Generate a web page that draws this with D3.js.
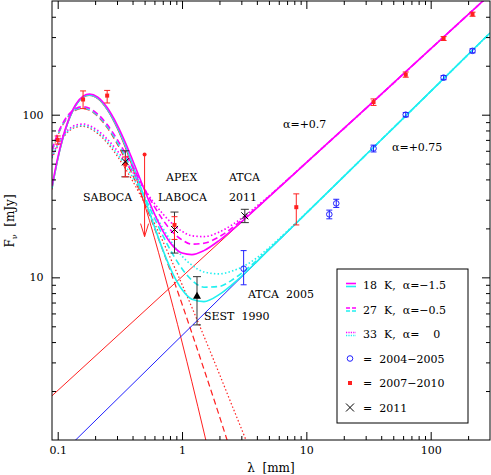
<!DOCTYPE html>
<html>
<head>
<meta charset="utf-8">
<script src="https://cdn.jsdelivr.net/npm/d3@7/dist/d3.min.js"></script>
<style>
  body { margin: 0; background: #fff; }
  text { font-family: "DejaVu Serif", serif; font-size: 11px; white-space: pre; }
</style>
</head>
<body>
<div id="chart"></div>
<script>
var lam = [0.09, 0.1, 0.12, 0.14, 0.16, 0.18, 0.21, 0.25, 0.3, 0.35, 0.4, 0.5, 0.6, 0.7, 0.85,
           1.0, 1.2, 1.5, 2.0, 2.5, 3.2, 4, 5, 7, 10, 30, 100, 300];

// dust only (red)
var dust18 = [34.6, 52.3, 87.4, 113.3, 127.3, 131.1, 124.9, 106.8, 82.6, 62.6, 47.4, 28.1, 17.5, 11.4, 6.51,
              4.00, 2.28, 1.12, 0.44, 0.21];
var dust27 = [59.3, 74.3, 96.0, 106.7, 109.1, 106.4, 97.5, 83.1, 66.4, 53.0, 42.7, 28.6, 20.1, 14.7, 9.76,
              6.85, 4.55, 2.73, 1.40, 0.82, 0.45];
var dust33 = [53.9, 64.1, 77.8, 83.8, 84.8, 82.6, 76.6, 67.1, 55.9, 46.6, 39.2, 28.5, 21.5, 16.7, 12.0,
              9.05, 6.54, 4.35, 2.54, 1.66, 1.04, 0.67];

// dust + free-free, alpha=+0.7 (magenta)
var mag18 = [36.4, 54.3, 89.7, 115.9, 130.1, 134.1, 128.3, 110.6, 87.0, 67.5, 52.7, 34.3, 24.6, 19.3, 15.5,
             14.1, 13.8, 14.6, 16.9, 19.4, 22.9, 26.7, 31.2, 39.5, 50.7, 109, 254, 548];
var mag27 = [61.2, 76.3, 98.3, 109.3, 111.9, 109.4, 100.9, 86.9, 70.8, 57.9, 48.0, 34.8, 27.2, 22.6, 18.8,
             17.0, 16.0, 16.2, 17.8, 20.0, 23.3, 26.9, 31.4, 39.6, 50.7, 109, 254, 548];
var mag33 = [55.8, 66.1, 80.1, 86.4, 87.6, 85.6, 80.0, 70.9, 60.3, 51.5, 44.5, 34.7, 28.5, 24.6, 21.1,
             19.2, 18.0, 17.8, 19.0, 20.9, 23.9, 27.4, 31.6, 39.7, 50.8, 109, 254, 548];

// dust + free-free, alpha=+0.75 (cyan)
var cyan18 = [35.3, 53.1, 88.3, 114.3, 128.4, 132.3, 126.3, 108.4, 84.4, 64.6, 49.6, 30.7, 20.5, 14.8, 10.4,
              8.41, 7.33, 7.09, 7.85, 8.97, 10.6, 12.5, 14.8, 19.0, 24.8, 56.5, 139, 318];
var cyan27 = [60.0, 75.1, 96.9, 107.7, 110.2, 107.6, 98.9, 84.7, 68.2, 55.0, 44.9, 31.2, 23.1, 18.1, 13.7,
              11.3, 9.60, 8.70, 8.80, 9.58, 11.0, 12.7, 14.9, 19.0, 24.8, 56.5, 139, 318];
var cyan33 = [54.6, 64.9, 78.7, 84.8, 85.9, 83.8, 78.0, 68.7, 57.7, 48.6, 41.4, 31.1, 24.5, 20.1, 15.9,
              13.5, 11.9, 10.8, 10.5, 10.9, 11.8, 13.2, 15.2, 19.2, 24.9, 56.5, 139, 318];

// free-free power laws on their own
var ffLam = [0.09, 300];
var ffRed = [1.87, 548];
var ffBlue = [0.72, 318];

// 2007-2010 (red squares)
var redLam = [0.1, 0.16, 0.25, 0.35, 0.87, 8.3, 34.7, 63, 127, 217];
var redF   = [70, 124, 131, 49.4, 21.0, 27, 119.5, 176, 294, 415];
var redLo  = [66, 109, 118, 41.5, 17.1, 21, 114, 170, 286, 403];
var redHi  = [74, 140, 141, 55, 23.6, 32.6, 125, 183, 302, 427];
// upper limit with arrow
var ulLam = [0.5], ulF = [57], ulTo = [17.8];

// 2004-2005 (blue circles)
var blueLam = [3.13, 15.3, 17.4, 34.7, 63, 127, 217];
var blueF   = [11.3, 24.4, 28.5, 62, 100, 169, 247];
var blueLo  = [9.0, 22.9, 26.9, 59, 97, 164, 240];
var blueHi  = [14.6, 25.9, 30.2, 65, 103, 174, 254];

// 2011 (crosses)
var crossLam = [0.35, 0.87, 3.2];
var crossF   = [51.3, 19.7, 23.9];
var crossLo  = [41.5, 14.1, 21.7];
var crossHi  = [60, 25.2, 26.2];

// SEST 1990 (triangle)
var sestLam = [1.32], sestF = [7.7], sestLo = [5.1], sestHi = [10.1];

var xMajor = [0.1, 1, 10, 100];
var xMinor = [0.2, 0.3, 0.4, 0.5, 0.6, 0.7, 0.8, 0.9, 2, 3, 4, 5, 6, 7, 8, 9,
              20, 30, 40, 50, 60, 70, 80, 90, 200];
var yMajor = [10, 100];
var yMinor = [2, 3, 4, 5, 6, 7, 8, 9, 20, 30, 40, 50, 60, 70, 80, 90, 200, 300, 400];

var margin = {top: 1, right: 1, bottom: 35, left: 52},
    width = 491 - margin.left - margin.right,
    height = 475 - margin.top - margin.bottom;

var svg = d3.select("#chart")
  .append("svg")
    .attr("width", 491)
    .attr("height", 475)
  .append("g")
    .attr("transform", "translate(" + margin.left + "," + margin.top + ")");

var x = d3.scaleLog().domain([0.09, 300]).range([0, width]);
var y = d3.scaleLog().domain([1, 500]).range([height, 0]);

svg.append("clipPath").attr("id", "clip")
  .append("rect").attr("width", width).attr("height", height);

var plot = svg.append("g").attr("clip-path", "url(#clip)");

function pairs(xs, ys) {
  return ys.map(function(v, i) { return [xs[i], v]; });
}

var line = d3.line()
  .x(function(d) { return x(d[0]); })
  .y(function(d) { return y(d[1]); })
  .curve(d3.curveMonotoneX);

var dashes = {solid: null, dashed: "6,3.5", dotted: "1.5,2.2"};

function drawCurve(vals, xs, color, style, w) {
  plot.append("path")
    .datum(pairs(xs, vals))
    .attr("fill", "none")
    .attr("stroke", color)
    .attr("stroke-width", w)
    .attr("stroke-dasharray", dashes[style])
    .attr("d", line);
}

// red dust tails and the two bare power laws
drawCurve(dust18, lam, "#ff2020", "solid", 1);
drawCurve(dust27, lam, "#ff2020", "dashed", 1.2);
drawCurve(dust33, lam, "#ff2020", "dotted", 1.2);
drawCurve(ffRed, ffLam, "#ff2020", "solid", 1);
drawCurve(ffBlue, ffLam, "#2020ff", "solid", 1);

// total models
drawCurve(cyan18, lam, "#20f0f0", "solid", 1.6);
drawCurve(cyan27, lam, "#20f0f0", "dashed", 1.6);
drawCurve(cyan33, lam, "#20f0f0", "dotted", 1.6);
drawCurve(mag18, lam, "#ff00ff", "solid", 1.6);
drawCurve(mag27, lam, "#ff00ff", "dashed", 1.6);
drawCurve(mag33, lam, "#ff00ff", "dotted", 1.6);

// error bars
function errBars(xs, lo, hi, color, cap) {
  xs.forEach(function(l, i) {
    var g = plot.append("g").attr("stroke", color).attr("stroke-width", 1);
    g.append("line").attr("x1", x(l)).attr("x2", x(l)).attr("y1", y(lo[i])).attr("y2", y(hi[i]));
    g.append("line").attr("x1", x(l) - cap).attr("x2", x(l) + cap).attr("y1", y(lo[i])).attr("y2", y(lo[i]));
    g.append("line").attr("x1", x(l) - cap).attr("x2", x(l) + cap).attr("y1", y(hi[i])).attr("y2", y(hi[i]));
  });
}

errBars(crossLam, crossLo, crossHi, "#333", 4);
errBars(sestLam, sestLo, sestHi, "#333", 4);
errBars(redLam, redLo, redHi, "#ff2020", 3);
errBars(blueLam, blueLo, blueHi, "#2020ff", 3);

// upper limit
ulLam.forEach(function(l, i) {
  var g = plot.append("g").attr("stroke", "#ff2020").attr("fill", "none").attr("stroke-width", 1);
  g.append("line").attr("x1", x(l)).attr("x2", x(l)).attr("y1", y(ulF[i])).attr("y2", y(ulTo[i]));
  g.append("path").attr("d", "M" + (x(l) - 4) + "," + (y(ulTo[i]) - 13) +
    "L" + x(l) + "," + y(ulTo[i]) + "L" + (x(l) + 4) + "," + (y(ulTo[i]) - 13));
  plot.append("circle").attr("cx", x(l)).attr("cy", y(ulF[i])).attr("r", 2).attr("fill", "#ff2020");
});

// markers
plot.selectAll(".red").data(pairs(redLam, redF)).enter().append("rect")
  .attr("x", function(d) { return x(d[0]) - 2; })
  .attr("y", function(d) { return y(d[1]) - 2; })
  .attr("width", 4).attr("height", 4)
  .attr("fill", "#ff2020");

plot.selectAll(".blue").data(pairs(blueLam, blueF)).enter().append("circle")
  .attr("cx", function(d) { return x(d[0]); })
  .attr("cy", function(d) { return y(d[1]); })
  .attr("r", 2.8)
  .attr("fill", "none").attr("stroke", "#2020ff").attr("stroke-width", 1);

plot.selectAll(".cross").data(pairs(crossLam, crossF)).enter().append("path")
  .attr("d", function(d) {
    var cx = x(d[0]), cy = y(d[1]), s = 3.5;
    return "M" + (cx - s) + "," + (cy - s) + "L" + (cx + s) + "," + (cy + s) +
           "M" + (cx - s) + "," + (cy + s) + "L" + (cx + s) + "," + (cy - s);
  })
  .attr("stroke", "#000").attr("stroke-width", 1);

plot.selectAll(".sest").data(pairs(sestLam, sestF)).enter().append("path")
  .attr("d", function(d) {
    var cx = x(d[0]), cy = y(d[1]);
    return "M" + (cx - 4) + "," + (cy + 3) + "L" + cx + "," + (cy - 4) + "L" + (cx + 4) + "," + (cy + 3) + "Z";
  })
  .attr("fill", "#000");

// axes, ticks pointing inward on all four sides
function addAxis(axisFn, transform, vals, len, labels) {
  var a = axisFn.tickValues(vals).tickSize(-len).tickPadding(labels ? 6 : 0);
  a.tickFormat(labels ? function(d) { return String(d); } : "");
  var g = svg.append("g").attr("transform", transform).call(a);
  g.select(".domain").remove();
  g.selectAll("line").attr("stroke", "#000");
  g.selectAll("text").attr("font-family", "DejaVu Serif, serif").attr("font-size", 11).attr("fill", "#000");
  return g;
}

addAxis(d3.axisBottom(x), "translate(0," + height + ")", xMajor, 8, true);
addAxis(d3.axisBottom(x), "translate(0," + height + ")", xMinor, 4, false);
addAxis(d3.axisTop(x), "translate(0,0)", xMajor, 8, false);
addAxis(d3.axisTop(x), "translate(0,0)", xMinor, 4, false);
var yl = addAxis(d3.axisLeft(y), "translate(0,0)", yMajor, 8, true);
yl.selectAll("text").attr("x", -8.5);
addAxis(d3.axisLeft(y), "translate(0,0)", yMinor, 4, false);
addAxis(d3.axisRight(y), "translate(" + width + ",0)", yMajor, 8, false);
addAxis(d3.axisRight(y), "translate(" + width + ",0)", yMinor, 4, false);

svg.append("rect")
  .attr("width", width).attr("height", height)
  .attr("fill", "none").attr("stroke", "#000").attr("stroke-width", 1);

// axis titles
svg.append("text")
  .attr("x", 271 - margin.left).attr("y", 472 - margin.top)
  .attr("text-anchor", "middle")
  .style("font-size", "12px")
  .text("λ  [mm]");

var yt = svg.append("text")
  .attr("transform", "translate(" + (13.5 - margin.left) + "," + (221 - margin.top) + ") rotate(-90)")
  .attr("text-anchor", "middle")
  .style("font-size", "12px");
yt.append("tspan").text("F");
yt.append("tspan").attr("font-size", 8).attr("dy", 3).text("ν");
yt.append("tspan").attr("dy", -3).text("  [mJy]");

// annotations
var notes = [
  {t: "α=+0.7", x: 283, y: 128},
  {t: "α=+0.75", x: 392, y: 151},
  {t: "SABOCA", x: 83, y: 201},
  {t: "APEX", x: 166, y: 181},
  {t: "LABOCA", x: 158, y: 201},
  {t: "ATCA", x: 229, y: 181},
  {t: "2011", x: 229, y: 201},
  {t: "ATCA  2005", x: 248, y: 298},
  {t: "SEST  1990", x: 204, y: 320}
];
svg.selectAll(".note").data(notes).enter().append("text")
  .attr("x", function(d) { return d.x - margin.left; })
  .attr("y", function(d) { return d.y - margin.top; })
  .text(function(d) { return d.t; });

// legend
var lg = svg.append("g").attr("transform", "translate(" + (337 - margin.left) + "," + (269 - margin.top) + ")");
lg.append("rect").attr("width", 131).attr("height", 154)
  .attr("fill", "#fff").attr("stroke", "#000").attr("stroke-width", 1);

var legendRows = [
  {t: "18  K,  α=−1.5", style: "solid"},
  {t: "27  K,  α=−0.5", style: "dashed"},
  {t: "33  K,  α=    0", style: "dotted"},
  {t: "=  2004−2005", mark: "circle"},
  {t: "=  2007−2010", mark: "square"},
  {t: "=  2011", mark: "cross"}
];
legendRows.forEach(function(r, i) {
  var cy = 16 + i * 24.5;
  if (r.style) {
    var da = r.style === "dashed" ? "4,2" : (r.style === "dotted" ? "1.2,1.2" : null);
    lg.append("line").attr("x1", 9).attr("x2", 19).attr("y1", cy - 1.5).attr("y2", cy - 1.5)
      .attr("stroke", "#ff00ff").attr("stroke-width", 1.6).attr("stroke-dasharray", da);
    lg.append("line").attr("x1", 9).attr("x2", 19).attr("y1", cy + 1.5).attr("y2", cy + 1.5)
      .attr("stroke", "#20f0f0").attr("stroke-width", 1.6).attr("stroke-dasharray", da);
  } else if (r.mark === "circle") {
    lg.append("circle").attr("cx", 13).attr("cy", cy).attr("r", 2.8)
      .attr("fill", "none").attr("stroke", "#2020ff");
  } else if (r.mark === "square") {
    lg.append("rect").attr("x", 11).attr("y", cy - 2).attr("width", 4).attr("height", 4).attr("fill", "#ff2020");
  } else {
    lg.append("path").attr("d", "M9," + (cy - 4) + "L17," + (cy + 4) + "M9," + (cy + 4) + "L17," + (cy - 4))
      .attr("stroke", "#000");
  }
  lg.append("text").attr("x", 26).attr("y", cy + 4).text(r.t);
});
</script>
</body>
</html>
